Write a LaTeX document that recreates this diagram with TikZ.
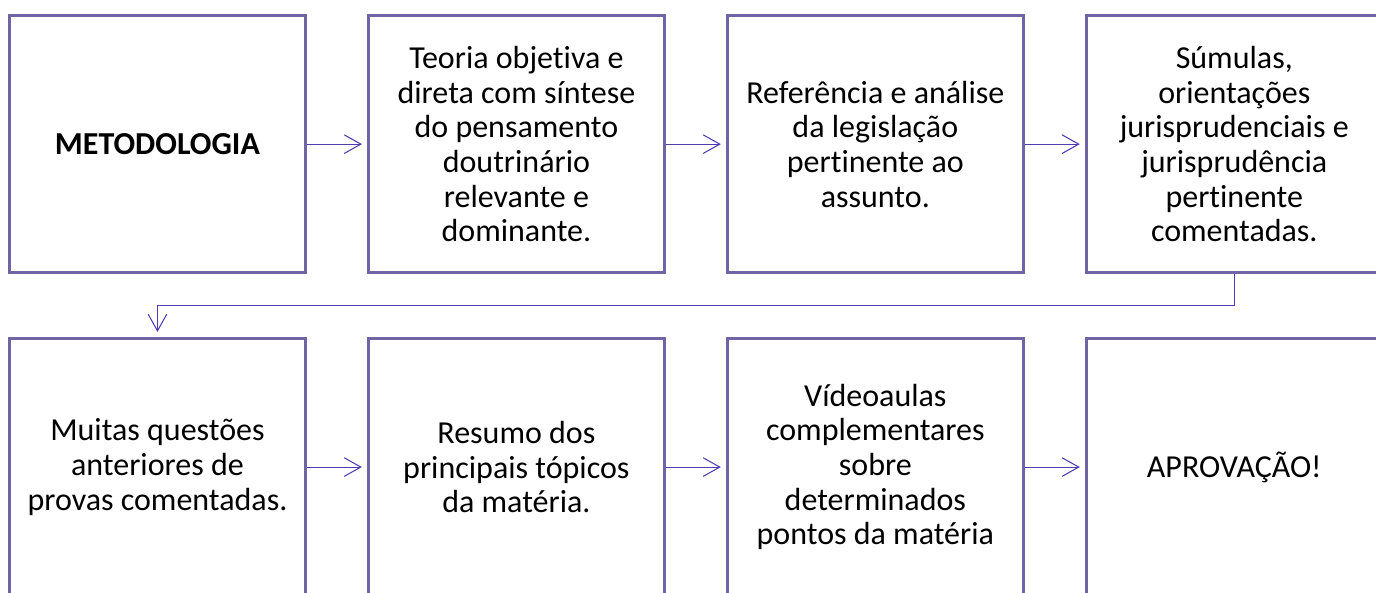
\documentclass[tikz,border=0pt]{standalone}
\usepackage{fontspec}
\setmainfont[Ligatures=NoCommon]{Carlito}
\usetikzlibrary{arrows.meta,positioning}

\definecolor{boxline}{RGB}{112,100,164}
\definecolor{arrowline}{RGB}{78,62,178}

\begin{document}
\begin{tikzpicture}
  [>={Straight Barb[length=12.5pt,width=14pt]}, font=\fontsize{24}{26}\selectfont]

% page frame
\clip (0,0) rectangle (1032pt,-444pt);

% define styles
\tikzstyle{stage} = [draw=boxline, line width=2.2pt, rectangle, minimum width=222pt, minimum height=193pt, align=center, inner sep=0pt];
\tikzstyle{link} = [draw=arrowline, line width=0.8pt, shorten >=3.75pt];

% define new commands
\newcommand{\conHoriz}[2]{
  \draw [link,->] (#1.east) -- (#2.west);
}

% draw nodes, upper row
\node[stage, anchor=north west] (s1) at (6pt,-10.5pt) {\textbf{METODOLOGIA}};
\node[stage, right=45pt of s1] (s2) {Teoria objetiva e\\direta com síntese\\do pensamento\\doutrinário\\relevante e\\dominante.};
\node[stage, right=45pt of s2] (s3) {Referência e análise\\da legislação\\pertinente ao\\assunto.};
\node[stage, right=45pt of s3] (s4) {Súmulas,\\orientações\\jurisprudenciais e\\jurisprudência\\pertinente\\comentadas.};

% draw nodes, lower row
\node[stage, below=47pt of s1] (s5) {Muitas questões\\anteriores de\\provas comentadas.};
\node[stage, right=45pt of s5] (s6) {Resumo dos\\principais tópicos\\da matéria.};
\node[stage, right=45pt of s6] (s7) {Vídeoaulas\\complementares\\sobre\\determinados\\pontos da matéria};
\node[stage, right=45pt of s7] (s8) {APROVAÇÃO!};

% draw horizontal edges
\foreach \x/\y in {1/2,2/3,3/4,5/6,6/7,7/8}{
  \conHoriz{s\x}{s\y}
}

% edge from upper row down to lower row
\draw [link,->] (s4.south) -- ++(0,-23.6pt) -| (s5.north);

\end{tikzpicture}
\end{document}
